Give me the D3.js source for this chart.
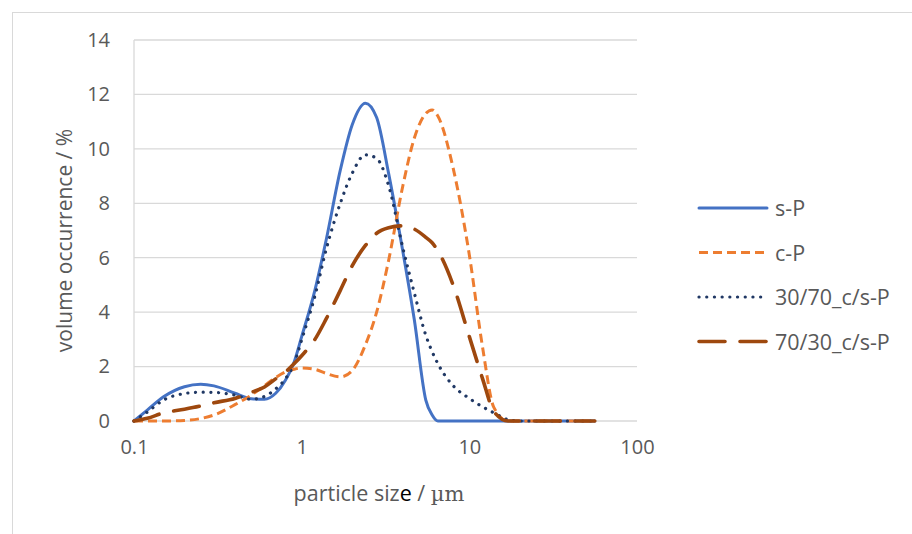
<!DOCTYPE html>
<html>
<head>
<meta charset="utf-8">
<script src="https://cdn.jsdelivr.net/npm/d3@7"></script>
<style>
  html, body { margin: 0; padding: 0; background: #fff; }
  #chart { width: 912px; height: 534px; }
</style>
</head>
<body>
<div id="chart"></div>
<script>
// particle sizes (µm) at which the distributions were read
const SIZES = [0.1, 0.12, 0.15, 0.2, 0.25, 0.3, 0.4, 0.5, 0.6, 0.7, 0.8, 0.9, 1.0, 1.2, 1.4, 1.7, 2.0, 2.4, 2.8, 3.3, 4.0, 4.7, 5.5, 6.0, 6.5, 8, 10, 12, 14, 17, 20, 30, 45, 56];

const S_P    = [0, 0.4, 0.89, 1.26, 1.35, 1.29, 1.02, 0.82, 0.8, 1.02, 1.5, 2.15, 3.1, 4.81, 6.65, 9.22, 10.88, 11.68, 11.15, 9.1, 6.28, 3.71, 0.77, 0.22, 0, 0, 0, 0, 0, 0, 0, 0, 0, 0];
const C_P    = [0, 0, 0, 0.02, 0.09, 0.22, 0.6, 0.95, 1.3, 1.6, 1.8, 1.9, 1.95, 1.9, 1.75, 1.62, 1.85, 2.8, 4.0, 5.9, 8.6, 10.4, 11.3, 11.43, 11.2, 9.3, 6.1, 2.7, 0.5, 0, 0, 0, 0, 0];
const MIX_30 = [0, 0.33, 0.77, 1.01, 1.06, 1.05, 0.95, 0.8, 0.9, 1.18, 1.55, 2.1, 2.98, 4.6, 6.3, 8.0, 9.1, 9.78, 9.65, 8.65, 6.4, 4.7, 3.15, 2.55, 2.1, 1.3, 0.83, 0.52, 0.3, 0.05, 0, 0, 0, 0];
const MIX_70 = [0, 0.1, 0.3, 0.43, 0.55, 0.67, 0.83, 1.05, 1.25, 1.55, 1.8, 2.1, 2.4, 3.0, 3.75, 4.8, 5.7, 6.45, 6.9, 7.1, 7.17, 7.05, 6.75, 6.55, 6.25, 5.0, 3.1, 1.55, 0.35, 0, 0, 0, 0, 0];

const SERIES_NAMES = ["s-P", "c-P", "30/70_c/s-P", "70/30_c/s-P"];
const X_TICKS = [0.1, 1, 10, 100];
const X_TICK_LABELS = ["0.1", "1", "10", "100"];
const Y_TICKS = [0, 2, 4, 6, 8, 10, 12, 14];

const STYLE = {
  "s-P":         { color: "#4472C4", width: 3,   dash: null,      cap: "round" },
  "c-P":         { color: "#ED7D31", width: 3,   dash: "9,5",     cap: "butt" },
  "30/70_c/s-P": { color: "#203864", width: 3.2, dash: "0.1,7.6", cap: "round" },
  "70/30_c/s-P": { color: "#9E480E", width: 3.6, dash: "26,15",   cap: "round" }
};

const series = [
  { name: SERIES_NAMES[0], values: S_P },
  { name: SERIES_NAMES[1], values: C_P },
  { name: SERIES_NAMES[2], values: MIX_30 },
  { name: SERIES_NAMES[3], values: MIX_70 }
];

const W = 912, H = 534;
const plot = { left: 134, right: 637, top: 40, bottom: 421 };
const FONT = "'Open Sans', Lato, sans-serif";
const TXT = "#595959";

const svg = d3.select("#chart").append("svg")
  .attr("width", W).attr("height", H)
  .style("font-family", FONT);

// chart frame
svg.append("rect")
  .attr("x", 12.5).attr("y", 12.5).attr("width", 1000).attr("height", 1000)
  .attr("fill", "none").attr("stroke", "#D9D9D9").attr("stroke-width", 1);

const x = d3.scaleLog().domain([0.1, 100]).range([plot.left, plot.right]);
const y = d3.scaleLinear().domain([0, 14]).range([plot.bottom, plot.top]);

// gridlines
svg.append("g").selectAll("line").data(Y_TICKS).enter().append("line")
  .attr("x1", plot.left).attr("x2", plot.right)
  .attr("y1", d => y(d)).attr("y2", d => y(d))
  .attr("stroke", "#D9D9D9").attr("stroke-width", 1.3);

// vertical axis line
svg.append("line")
  .attr("x1", plot.left).attr("x2", plot.left)
  .attr("y1", plot.top).attr("y2", plot.bottom)
  .attr("stroke", "#D9D9D9").attr("stroke-width", 1.3);

// y tick labels
const yAxis = svg.append("g").attr("transform", `translate(${plot.left - 24},0)`)
  .call(d3.axisLeft(y).tickValues(Y_TICKS).tickSize(0).tickPadding(0));
yAxis.select(".domain").remove();
yAxis.selectAll("text").style("font-size", "20px").style("font-family", FONT).attr("fill", TXT);

// x tick labels
const xAxis = svg.append("g").attr("transform", `translate(0,${plot.bottom + 19})`)
  .call(d3.axisBottom(x).tickValues(X_TICKS).tickFormat((d, i) => X_TICK_LABELS[i]).tickSize(0).tickPadding(0));
xAxis.select(".domain").remove();
xAxis.selectAll("text").style("font-size", "20px").style("font-family", FONT).attr("fill", TXT);

// axis titles
svg.append("text")
  .attr("transform", `translate(72,${(plot.top + plot.bottom) / 2 + 10}) rotate(-90)`)
  .attr("text-anchor", "middle")
  .style("font-size", "21px").attr("fill", TXT)
  .text("volume occurrence / %");

const xt = svg.append("text")
  .attr("x", 379).attr("y", 501)
  .attr("text-anchor", "middle")
  .style("font-size", "21.5px").attr("fill", TXT);
xt.append("tspan").text("particle siz");
xt.append("tspan").attr("fill", "#000").text("e");
xt.append("tspan").text(" / ");
xt.append("tspan").style("font-family", "'DejaVu Serif', 'Liberation Serif', serif").style("font-size", "21px").text("µm");

// lines
const line = d3.line()
  .x((d, i) => x(SIZES[i]))
  .y(d => y(d))
  .curve(d3.curveMonotoneX);

svg.append("g").selectAll("path").data(series).enter().append("path")
  .attr("d", d => line(d.values))
  .attr("fill", "none")
  .attr("stroke", d => STYLE[d.name].color)
  .attr("stroke-width", d => STYLE[d.name].width)
  .attr("stroke-dasharray", d => STYLE[d.name].dash)
  .attr("stroke-linecap", d => STYLE[d.name].cap)
  .attr("stroke-linejoin", "round");

// legend
const legend = svg.append("g").attr("transform", "translate(699,208)");
series.forEach((s, i) => {
  const st = STYLE[s.name];
  const row = legend.append("g").attr("transform", `translate(0,${i * 44.5})`);
  row.append("line")
    .attr("x1", 0).attr("x2", 68).attr("y1", 0).attr("y2", 0)
    .attr("stroke", st.color).attr("stroke-width", st.width)
    .attr("stroke-dasharray", st.dash).attr("stroke-linecap", st.cap);
  row.append("text").attr("x", 76).attr("y", 8)
    .style("font-size", "21.5px").attr("fill", TXT).text(s.name);
});
</script>
</body>
</html>
